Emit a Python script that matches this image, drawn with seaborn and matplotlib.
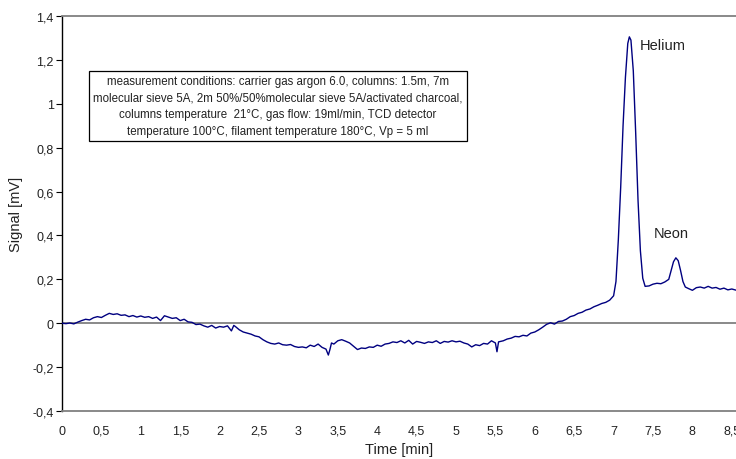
import numpy as np
import pandas as pd
import seaborn as sns
import matplotlib
matplotlib.use("Agg")
import matplotlib.pyplot as plt

# ---- data ----
time_min = [
    0.00, 0.05, 0.10, 0.15, 0.20, 0.25, 0.30, 0.35, 0.40, 0.45, 0.50, 0.55, 0.60, 0.65, 0.70,
    0.75, 0.80, 0.85, 0.90, 0.95, 1.00, 1.05, 1.10, 1.15, 1.20, 1.25, 1.30, 1.35, 1.40, 1.45,
    1.50, 1.55, 1.60, 1.65, 1.70, 1.75, 1.80, 1.85, 1.90, 1.95, 2.00, 2.05, 2.10, 2.15, 2.18,
    2.20, 2.25, 2.30, 2.35, 2.40, 2.45, 2.50, 2.55, 2.60, 2.65, 2.70, 2.75, 2.80, 2.85, 2.90,
    2.95, 3.00, 3.05, 3.10, 3.15, 3.20, 3.25, 3.30, 3.35, 3.38, 3.40, 3.42, 3.45, 3.50, 3.55,
    3.60, 3.65, 3.70, 3.75, 3.80, 3.85, 3.90, 3.95, 4.00, 4.05, 4.10, 4.15, 4.20, 4.25, 4.30,
    4.35, 4.40, 4.45, 4.50, 4.55, 4.60, 4.65, 4.70, 4.75, 4.80, 4.85, 4.90, 4.95, 5.00, 5.05,
    5.10, 5.15, 5.20, 5.25, 5.30, 5.35, 5.40, 5.45, 5.50, 5.52, 5.54, 5.60, 5.65, 5.70, 5.75,
    5.80, 5.85, 5.90, 5.95, 6.00, 6.05, 6.10, 6.15, 6.20, 6.25, 6.30, 6.35, 6.40, 6.45, 6.50,
    6.55, 6.60, 6.65, 6.70, 6.75, 6.80, 6.85, 6.90, 6.95, 7.00, 7.03, 7.06, 7.09, 7.12, 7.15,
    7.18, 7.20, 7.22, 7.25, 7.28, 7.31, 7.34, 7.37, 7.40, 7.45, 7.50, 7.55, 7.60, 7.65, 7.70,
    7.73, 7.76, 7.79, 7.82, 7.85, 7.88, 7.91, 7.95, 8.00, 8.05, 8.10, 8.15, 8.20, 8.25, 8.30,
    8.35, 8.40, 8.45, 8.50, 8.56,
]
signal_mv = [
    0.000, -0.002, 0.001, -0.003, 0.005, 0.012, 0.018, 0.015, 0.025, 0.030, 0.026, 0.036, 0.045, 0.040, 0.043,
    0.036, 0.038, 0.030, 0.035, 0.028, 0.033, 0.027, 0.030, 0.022, 0.028, 0.012, 0.034, 0.028, 0.022, 0.025,
    0.012, 0.018, 0.006, 0.004, -0.006, -0.004, -0.012, -0.018, -0.010, -0.022, -0.015, -0.018, -0.012, -0.035, -0.010,
    -0.015, -0.030, -0.040, -0.045, -0.050, -0.058, -0.062, -0.075, -0.085, -0.092, -0.095, -0.090, -0.098, -0.100, -0.097,
    -0.106, -0.110, -0.108, -0.112, -0.100, -0.106, -0.095, -0.110, -0.118, -0.145, -0.120, -0.090, -0.095, -0.080, -0.075,
    -0.082, -0.090, -0.105, -0.120, -0.113, -0.115, -0.108, -0.110, -0.100, -0.105, -0.095, -0.092, -0.085, -0.088, -0.080,
    -0.090, -0.078, -0.095, -0.083, -0.087, -0.092, -0.085, -0.088, -0.080, -0.092, -0.083, -0.086, -0.080, -0.085, -0.082,
    -0.090, -0.095, -0.108, -0.098, -0.102, -0.092, -0.095, -0.080, -0.090, -0.130, -0.085, -0.080, -0.072, -0.068, -0.060,
    -0.062, -0.055, -0.058, -0.045, -0.040, -0.030, -0.018, -0.005, 0.002, -0.004, 0.008, 0.010, 0.018, 0.030, 0.035,
    0.045, 0.050, 0.060, 0.065, 0.075, 0.082, 0.090, 0.095, 0.105, 0.125, 0.190, 0.380, 0.620, 0.900, 1.120,
    1.275, 1.305, 1.290, 1.150, 0.870, 0.560, 0.330, 0.205, 0.168, 0.170, 0.178, 0.182, 0.180, 0.188, 0.200,
    0.240, 0.280, 0.298, 0.285, 0.240, 0.190, 0.165, 0.158, 0.150, 0.162, 0.165, 0.160, 0.168, 0.160, 0.163,
    0.155, 0.160, 0.152, 0.156, 0.150,
]
x_ticks = [0, 0.5, 1, 1.5, 2, 2.5, 3, 3.5, 4, 4.5, 5, 5.5, 6, 6.5, 7, 7.5, 8, 8.5]
x_tick_labels = ["0", "0,5", "1", "1,5", "2", "2,5", "3", "3,5", "4", "4,5",
                 "5", "5,5", "6", "6,5", "7", "7,5", "8", "8,5"]
y_ticks = [-0.4, -0.2, 0, 0.2, 0.4, 0.6, 0.8, 1.0, 1.2, 1.4]
y_tick_labels = ["-0,4", "-0,2", "0", "0,2", "0,4", "0,6", "0,8", "1", "1,2", "1,4"]
peak_labels = ["Helium", "Neon"]
peak_label_x = [7.33, 7.51]
peak_label_y = [1.27, 0.41]
conditions_text = ("measurement conditions: carrier gas argon 6.0, columns: 1.5m, 7m\n"
                   "molecular sieve 5A, 2m 50%/50%molecular sieve 5A/activated charcoal,\n"
                   "columns temperature  21°C, gas flow: 19ml/min, TCD detector\n"
                   "temperature 100°C, filament temperature 180°C, Vp = 5 ml")

df = pd.DataFrame({"Time [min]": time_min, "Signal [mV]": signal_mv})

sns.set_style("white")
plt.rcParams["font.family"] = ["Liberation Sans", "DejaVu Sans"]

W, H = 736, 460
fig = plt.figure(figsize=(W / 100, H / 100), dpi=100)
left_px, right_px, top_px, bottom_px = 62, 736, 17, 412
ax = fig.add_axes([left_px / W, 1 - bottom_px / H, (right_px - left_px) / W, (bottom_px - top_px) / H])

ax.axhline(0, color="#808080", lw=1.3, zorder=1)
sns.lineplot(data=df, x="Time [min]", y="Signal [mV]", ax=ax, color="#000080", lw=1.0, zorder=3)

ax.set_xlim(0, (right_px - left_px) / 78.8)
ax.set_ylim(-0.4, 1.4)
ax.set_xticks(x_ticks)
ax.set_xticklabels(x_tick_labels)
ax.set_yticks(y_ticks)
ax.set_yticklabels(y_tick_labels)
ax.tick_params(axis="x", length=0, pad=10, labelsize=9, labelcolor="#222222")
ax.tick_params(axis="y", length=4, width=0.8, color="black", direction="out", left=True,
               labelsize=9, pad=2, labelcolor="#222222")
ax.set_xlabel("Time [min]", fontsize=10.5, labelpad=4, color="#222222")
ax.set_ylabel("Signal [mV]", fontsize=10.5, labelpad=7, color="#222222")

for s in ["top", "bottom"]:
    ax.spines[s].set_color("#808080")
    ax.spines[s].set_linewidth(1.3)
ax.spines["left"].set_color("black")
ax.spines["left"].set_linewidth(1.0)
ax.spines["right"].set_visible(False)

for lab, lx, ly in zip(peak_labels, peak_label_x, peak_label_y):
    ax.text(lx, ly, lab, fontsize=10.5, ha="left", va="center", color="#222222")

fig.text(278 / W, 1 - 107 / H, conditions_text, fontsize=8.3, ha="center", va="center",
         linespacing=1.55, color="#222222",
         bbox=dict(boxstyle="square,pad=0.35", fc="white", ec="black", lw=0.9))

fig.savefig("out.png", dpi=100)
